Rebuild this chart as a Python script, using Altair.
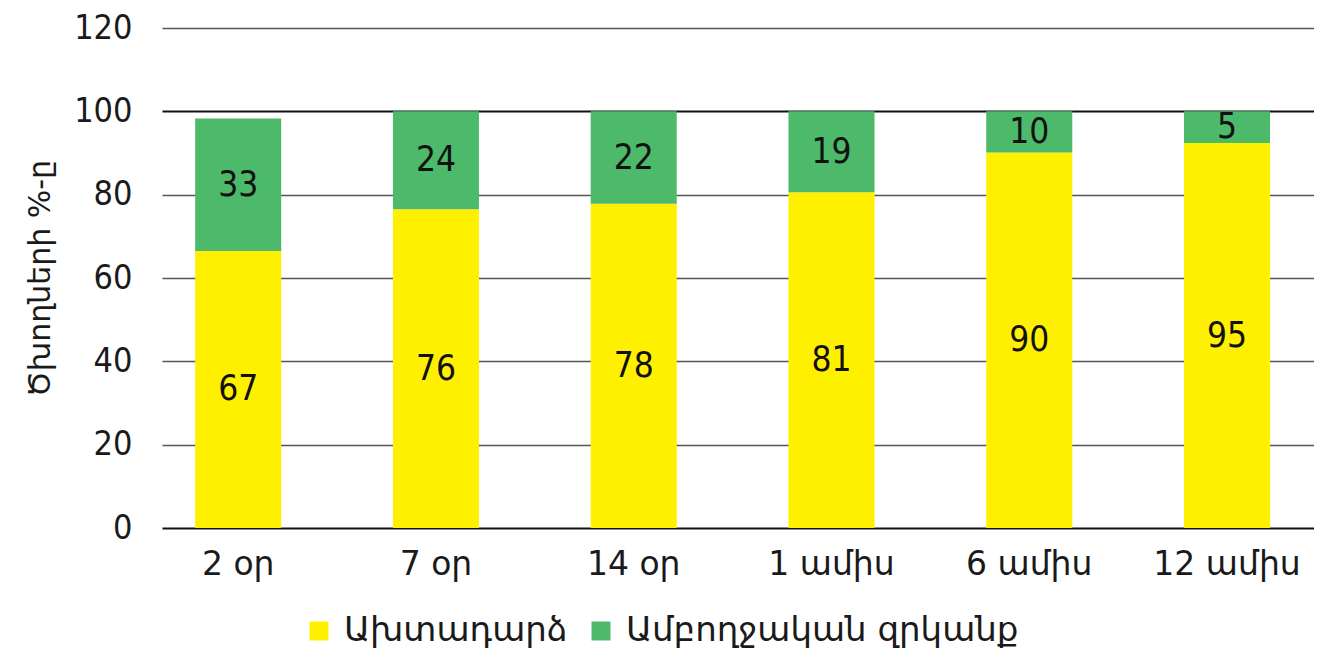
import altair as alt
import pandas as pd

periods = ["2 օր", "7 օր", "14 օր", "1 ամիս", "6 ամիս", "12 ամիս"]
series_names = ["Ախտադարձ", "Ամբողջական զրկանք"]
relapse_values = [66.5, 76.5, 77.8, 80.6, 90.1, 92.4]
abstinence_values = [31.8, 23.5, 22.2, 19.4, 9.9, 7.6]
relapse_labels = [67, 76, 78, 81, 90, 95]
abstinence_labels = [33, 24, 22, 19, 10, 5]
y_ticks = [0, 20, 40, 60, 80, 100, 120]

rows = []
for i, p in enumerate(periods):
    rows.append({"period": p, "series": series_names[0], "value": relapse_values[i],
                 "label": relapse_labels[i], "order": 0})
    rows.append({"period": p, "series": series_names[1], "value": abstinence_values[i],
                 "label": abstinence_labels[i], "order": 1})
df = pd.DataFrame(rows)

FONT_C = "DejaVu Sans Condensed, DejaVu Sans"
FONT = "DejaVu Sans"

x_enc = alt.X("period:N", sort=periods, title=None,
              scale=alt.Scale(paddingInner=0.565, paddingOuter=0.195, align=0.43),
              axis=alt.Axis(labelAngle=0, labelFontSize=33, labelPadding=20, ticks=False,
                            domain=False, labelColor="#1a1a1a", labelFont=FONT))

base = alt.Chart(df).transform_stack(
    stack="value", groupby=["period"], as_=["y0", "y1"],
    sort=[alt.SortField("order", order="ascending")]
).transform_calculate(mid="(datum.y0 + datum.y1) / 2")

bars = base.mark_bar(stroke=None).encode(
    x=x_enc,
    y=alt.Y("y0:Q", title="Ծխողների %-ը",
            scale=alt.Scale(domain=[0, 120], nice=False),
            axis=alt.Axis(values=y_ticks, ticks=False, domain=False, labelFontSize=34,
                          labelPadding=30, labelColor="#1a1a1a", labelFont=FONT_C,
                          titleFont=FONT, titleFontSize=30, titleFontWeight="normal",
                          titleColor="#1a1a1a", titlePadding=18,
                          gridColor=alt.condition("datum.value == 100 || datum.value == 0",
                                                  alt.value("#111111"), alt.value("#555555")),
                          gridWidth=alt.condition("datum.value == 100 || datum.value == 0",
                                                  alt.value(2), alt.value(1.6)))),
    y2="y1:Q",
    color=alt.Color("series:N", sort=series_names,
                    scale=alt.Scale(domain=series_names, range=["#FFF000", "#4CB96B"]),
                    legend=alt.Legend(title=None, orient="none", direction="horizontal",
                                      legendX=140, legendY=586, symbolType="square",
                                      symbolSize=360, symbolStrokeWidth=0,
                                      labelFontSize=34, labelFont=FONT, labelColor="#1a1a1a",
                                      labelLimit=0, columnPadding=16, labelOffset=8)),
    order=alt.Order("order:Q"),
)

texts = base.mark_text(fontSize=35, font=FONT_C, color="#111111", baseline="middle").encode(
    x=alt.X("period:N", sort=periods),
    y=alt.Y("mid:Q"),
    text=alt.Text("label:Q"),
)

chart = alt.layer(bars, texts).properties(
    width=1152, height=500,
    autosize=alt.AutoSizeParams(type="none"),
    padding={"left": 154, "top": 20, "right": 0, "bottom": 126},
).configure_view(stroke=None).configure_axis(gridOpacity=1)

chart.save("out.html", embed_options={"renderer": "svg", "actions": False})
